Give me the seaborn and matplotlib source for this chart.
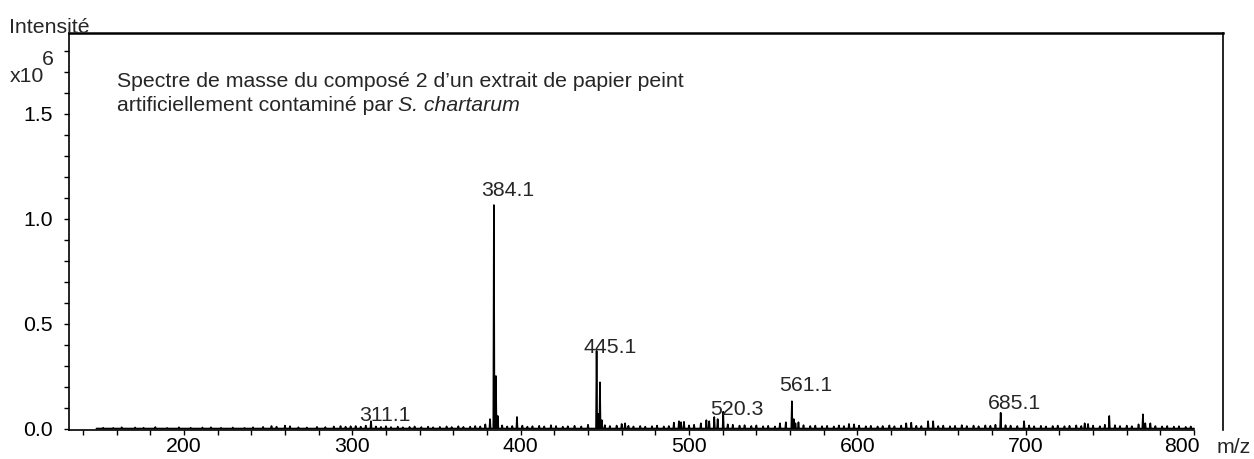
import numpy as np
import pandas as pd
import matplotlib
matplotlib.use('Agg')
import matplotlib.pyplot as plt
import seaborn as sns
from matplotlib.ticker import FixedLocator, MultipleLocator, FormatStrFormatter
import matplotlib.transforms as mtransforms

# --- data (intensities in units of 1e6) ---
peak_mz = [311.1, 381.8, 384.1, 385.3, 386.4, 397.8, 445.1, 446.2, 447.1, 448.2,
           462.0, 494.0, 495.2, 510.3, 515.0, 520.3, 557.5, 561.1, 562.2, 563.2,
           595.0, 632.0, 645.0, 685.1, 699.0, 735.0, 749.6, 769.6, 771.0]
peak_int = [0.035, 0.045, 1.064, 0.250, 0.060, 0.055, 0.370, 0.070, 0.220, 0.040,
            0.025, 0.035, 0.030, 0.040, 0.055, 0.080, 0.030, 0.130, 0.045, 0.025,
            0.022, 0.028, 0.035, 0.075, 0.035, 0.025, 0.060, 0.068, 0.025]

noise_mz = [152, 158, 163, 171, 176, 183, 190, 197, 204, 211,
            216, 222, 229, 236, 241, 247, 252, 255, 260, 263,
            268, 273, 279, 284, 289, 293, 296, 299,
            302, 305, 308, 314, 317, 320, 323, 327, 330, 334,
            337, 341, 345, 348, 352, 356, 359, 363, 366, 370,
            373, 376, 379, 389, 392, 395, 401, 404, 407, 411,
            414, 418, 421, 425, 428, 432, 436, 440, 450, 453,
            457, 460, 464, 467, 471, 474, 478, 481, 485, 488,
            491, 497, 500, 503, 507, 512, 517, 523, 526, 530,
            533, 537, 540, 544, 547, 551, 554, 565, 568, 572,
            575, 579, 582, 586, 589, 592, 598, 601, 605, 608,
            612, 615, 619, 622, 626, 629, 635, 638, 642, 648,
            651, 655, 658, 662, 665, 669, 672, 676, 679, 682,
            688, 691, 695, 702, 705, 709, 712, 716, 719, 723,
            726, 730, 733, 737, 740, 744, 747, 753, 756, 760,
            763, 767, 774, 777, 781, 784, 788, 791, 795, 798]
noise_int = [0.004, 0.003, 0.006, 0.005, 0.004, 0.007, 0.003, 0.006, 0.004, 0.005,
             0.006, 0.004, 0.005, 0.003, 0.006, 0.008, 0.012, 0.009, 0.014, 0.011,
             0.006, 0.005, 0.008, 0.007, 0.010, 0.012, 0.009, 0.011,
             0.012, 0.009, 0.014, 0.010, 0.008, 0.011, 0.007, 0.009, 0.006, 0.008,
             0.010, 0.007, 0.009, 0.006, 0.008, 0.010, 0.007, 0.011, 0.008, 0.009,
             0.012, 0.010, 0.020, 0.015, 0.010, 0.012, 0.014, 0.009, 0.011, 0.013,
             0.010, 0.016, 0.012, 0.009, 0.011, 0.013, 0.010, 0.018, 0.016, 0.012,
             0.014, 0.022, 0.013, 0.010, 0.012, 0.009, 0.011, 0.014, 0.010, 0.012,
             0.028, 0.032, 0.015, 0.018, 0.025, 0.035, 0.045, 0.020, 0.018, 0.014,
             0.016, 0.012, 0.015, 0.011, 0.013, 0.010, 0.025, 0.030, 0.016, 0.012,
             0.014, 0.011, 0.013, 0.010, 0.015, 0.012, 0.020, 0.014, 0.011, 0.013,
             0.010, 0.012, 0.015, 0.011, 0.014, 0.025, 0.013, 0.012, 0.035, 0.012,
             0.014, 0.011, 0.013, 0.016, 0.012, 0.014, 0.011, 0.015, 0.013, 0.018,
             0.016, 0.014, 0.012, 0.015, 0.011, 0.013, 0.010, 0.012, 0.014, 0.011,
             0.013, 0.015, 0.012, 0.022, 0.014, 0.011, 0.018, 0.016, 0.012, 0.014,
             0.011, 0.020, 0.025, 0.012, 0.010, 0.012, 0.009, 0.011, 0.008, 0.010]

scan_range = [148, 800]

label_mz = [311.1, 384.1, 445.1, 520.3, 561.1, 685.1]
label_text = ['311.1', '384.1', '445.1', '520.3', '561.1', '685.1']

x_ticks = [200, 300, 400, 500, 600, 700, 800]
y_ticks = [0.0, 0.5, 1.0, 1.5]

# --- build the profile (stick peaks on a zero baseline) ---
sticks = pd.DataFrame({'mz': peak_mz + noise_mz, 'inten': peak_int + noise_int})
sticks = sticks.sort_values('mz')
half = 0.35
rows = [(scan_range[0], 0.0)]
for m, h in zip(sticks['mz'], sticks['inten']):
    rows += [(m - half, 0.0), (m, h), (m + half, 0.0)]
rows.append((scan_range[1], 0.0))
profile = pd.DataFrame(rows, columns=['mz', 'inten'])

# --- figure ---
sns.set_style('ticks')
plt.rcParams['font.family'] = ['Liberation Sans', 'DejaVu Sans']
FS = 15.3

fig = plt.figure(figsize=(12.54, 4.59), dpi=100)
ax = fig.add_axes([0.05526, 0.06318, 0.9198, 0.8643])

sns.lineplot(data=profile, x='mz', y='inten', estimator=None, sort=False,
             color='black', lw=1.2, ax=ax)

ax.set_xlim(131.9, 817)
ax.set_ylim(-0.007, 1.882)
ax.set_xlabel('')
ax.set_ylabel('')

ax.xaxis.set_major_locator(FixedLocator(x_ticks))
ax.xaxis.set_minor_locator(MultipleLocator(20))
ax.yaxis.set_major_locator(FixedLocator(y_ticks))
ax.yaxis.set_minor_locator(MultipleLocator(0.1))
ax.yaxis.set_major_formatter(FormatStrFormatter('%.1f'))

ax.tick_params(axis='both', which='both', direction='out', length=3.6, width=1.0,
               color='black', labelsize=FS, labelcolor='black')
ax.tick_params(axis='x', which='major', pad=1.5)
ax.tick_params(axis='y', which='major', pad=8.5)

for s in ['left', 'right', 'bottom']:
    ax.spines[s].set_linewidth(1.2)
    ax.spines[s].set_color('black')
ax.spines['top'].set_linewidth(1.8)
ax.spines['top'].set_color('black')
ax.spines['bottom'].set_bounds(131.9, 800)

# shift the last x label left a bit (as in the original software output)
last = ax.get_xticklabels()[-1]
last.set_transform(last.get_transform() + mtransforms.ScaledTranslation(-12 / 100, 0, fig.dpi_scale_trans))

# peak labels
peak_height = dict(zip(peak_mz, peak_int))
dy_px = {'311.1': 0, '384.1': 9, '445.1': -2, '520.3': -3, '561.1': 10, '685.1': 4}
for m, t in zip(label_mz, label_text):
    ax.annotate(t, xy=(m, peak_height[m]), xytext=(14 * 0.72, dy_px[t] * 0.72),
                textcoords='offset points', ha='center', va='baseline', fontsize=FS)

# title text inside plot
t1 = fig.text(117 / 1254, 1 - 87 / 459,
              'Spectre de masse du composé 2 d\u2019un extrait de papier peint',
              fontsize=FS, ha='left', va='baseline')
t2 = fig.text(117 / 1254, 1 - 111 / 459, 'artificiellement contaminé par',
              fontsize=FS, ha='left', va='baseline')
fig.canvas.draw()
bb = t2.get_window_extent()
fig.text((bb.x1 + 5) / 1254, 1 - 111 / 459, 'S. chartarum', fontsize=FS,
         style='italic', ha='left', va='baseline')

# axis captions
fig.text(9 / 1254, 1 - 33 / 459, 'Intensité', fontsize=FS, ha='left', va='baseline')
fig.text(10 / 1254, 1 - 82 / 459, 'x10', fontsize=FS, ha='left', va='baseline')
fig.text(42 / 1254, 1 - 65 / 459, '6', fontsize=FS, ha='left', va='baseline')
fig.text(1217 / 1254, 6 / 459, 'm/z', fontsize=FS, ha='left', va='baseline')

fig.savefig('out.png', dpi=100)
